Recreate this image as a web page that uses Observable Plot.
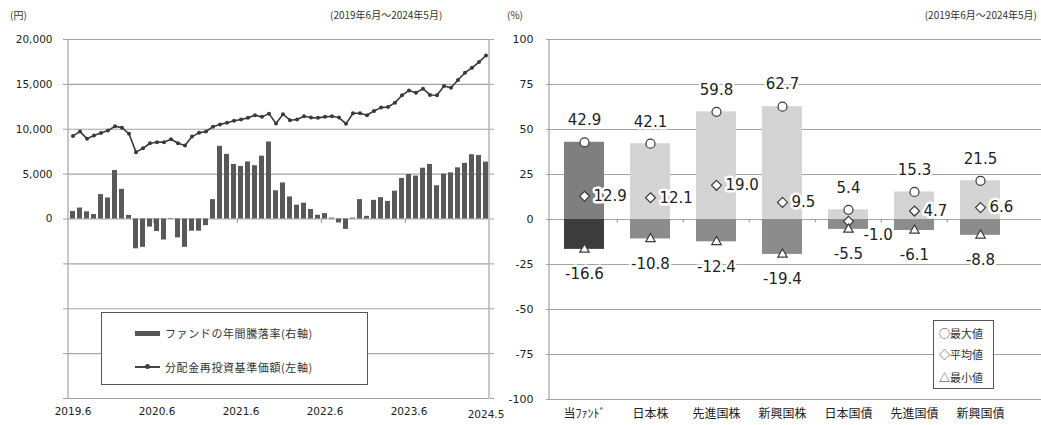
<!DOCTYPE html>
<html><head><meta charset="utf-8">
<script src="https://cdn.jsdelivr.net/npm/d3@7"></script>
<script src="https://cdn.jsdelivr.net/npm/@observablehq/plot@0.6"></script>
<style>
body{margin:0;background:#fff;}
#wrap{position:relative;width:1041px;height:425px;overflow:hidden;background:#fff;font-family:"Noto Sans CJK JP","Noto Sans",sans-serif;color:#222;}
#left{position:absolute;left:0;top:0;}
#right{position:absolute;left:495px;top:0;}
.hdr{position:absolute;top:9px;font-size:10px;line-height:12px;white-space:nowrap;color:#333;}
.legend{position:absolute;background:#fff;border:1px solid #555;box-sizing:border-box;font-size:11px;color:#333;}
.item{position:absolute;white-space:nowrap;line-height:14px;}
</style></head>
<body>
<div id="wrap">
  <div id="left"></div>
  <div id="right"></div>
  <div class="hdr" style="left:10px;">(円)</div>
  <div class="hdr" style="left:330px;">(2019年6月～2024年5月)</div>
  <div class="hdr" style="left:507px;">(%)</div>
  <div class="hdr" style="right:4px;">(2019年6月～2024年5月)</div>
  <div class="legend" style="left:101px;top:312px;width:267px;height:73px;">
    <div style="position:absolute;left:33px;top:18px;width:25px;height:5px;background:#555;"></div>
    <div class="item" style="left:63px;top:13px;letter-spacing:0.6px;">ファンドの年間騰落率(右軸)</div>
    <div style="position:absolute;left:33px;top:53px;width:25px;height:1.5px;background:#444;"></div>
    <div style="position:absolute;left:43px;top:51px;width:5px;height:5px;border-radius:50%;background:#444;"></div>
    <div class="item" style="left:63px;top:47px;letter-spacing:0.6px;">分配金再投資基準価額(左軸)</div>
  </div>
  <div class="legend" style="left:933px;top:320px;width:61px;height:69px;">
    <div class="item" style="left:5px;top:5px;">○最大値</div>
    <div class="item" style="left:5px;top:26px;">◇平均値</div>
    <div class="item" style="left:5px;top:49px;">△最小値</div>
  </div>
</div>
<script>
// ---------- data: left chart ----------
const months = ["2019.6","2019.7","2019.8","2019.9","2019.10","2019.11","2019.12",
  "2020.1","2020.2","2020.3","2020.4","2020.5","2020.6","2020.7","2020.8","2020.9","2020.10","2020.11","2020.12",
  "2021.1","2021.2","2021.3","2021.4","2021.5","2021.6","2021.7","2021.8","2021.9","2021.10","2021.11","2021.12",
  "2022.1","2022.2","2022.3","2022.4","2022.5","2022.6","2022.7","2022.8","2022.9","2022.10","2022.11","2022.12",
  "2023.1","2023.2","2023.3","2023.4","2023.5","2023.6","2023.7","2023.8","2023.9","2023.10","2023.11","2023.12",
  "2024.1","2024.2","2024.3","2024.4","2024.5"];
// fund annual return (%), right axis
const fundReturn = [4.2,6.1,4.0,2.5,13.6,11.7,27.0,16.5,2.0,-16.6,-15.8,-4.5,-7.0,-11.7,-0.3,-10.5,-15.8,-6.8,-6.8,-3.7,
  10.8,40.5,36.0,30.4,29.3,31.8,29.7,35.0,42.9,15.7,20.1,12.3,7.7,8.8,5.3,2.1,3.0,0.5,-2.2,-5.8,
  0.5,10.8,1.5,10.4,11.9,9.8,15.5,22.6,24.8,23.9,28.3,30.4,18.5,25.0,25.7,28.5,31.0,35.8,35.4,31.7];
// NAV with dividends reinvested (yen), left axis
const navYen = [9260,9740,8950,9300,9580,9850,10330,10180,9500,7450,7880,8440,8550,8560,8880,8440,8180,9180,9600,9750,
  10290,10540,10720,10940,11090,11270,11560,11380,11740,10650,11670,11010,11090,11450,11300,11270,11380,11450,11300,10600,
  11780,11780,11560,12040,12410,12480,12960,13780,14330,14075,14520,13820,13780,14815,14630,15480,16300,16850,17480,18220];
const leftTickLabels = ["2019.6","2020.6","2021.6","2022.6","2023.6"];
const lastTickLabel = ["2024.5"];
const yearMarks = ["2020.6","2021.6","2022.6","2023.6"];
const yenGrid = [-20000,-15000,-10000,-5000,0,5000,10000,15000,20000];

// ---------- data: right chart ----------
const categories = ["当ﾌｧﾝﾄﾞ","日本株","先進国株","新興国株","日本国債","先進国債","新興国債"];
const maxVals = [42.9,42.1,59.8,62.7,5.4,15.3,21.5];
const avgVals = [12.9,12.1,19.0,9.5,-1.0,4.7,6.6];
const minVals = [-16.6,-10.8,-12.4,-19.4,-5.5,-6.1,-8.8];
const pctTicks = [100,75,50,25,0,-25,-50,-75,-100];

const numFont = "DejaVu Sans, sans-serif";
const jpFont = "'Noto Sans CJK JP', sans-serif";
const gridColor = "#a3a3a3";

// ---------- left chart ----------
const L = {w: 515, h: 425, ml: 68, mr: 26, mt: 39, mb: 27};
const leftRows = months.map((m, i) => ({month: m, ret: fundReturn[i], nav: navYen[i]}));
const leftSides = () => {
  const g = d3.create("svg:g").attr("stroke", gridColor).attr("stroke-width", 1.2);
  for (const x of [L.ml, L.w - L.mr]) g.append("line").attr("x1", x).attr("x2", x).attr("y1", L.mt).attr("y2", L.h - L.mb);
  return g.node();
};
const leftPlot = Plot.plot({
  width: L.w, height: L.h, marginLeft: L.ml, marginRight: L.mr, marginTop: L.mt, marginBottom: L.mb,
  style: {fontFamily: numFont, fontSize: "10.5px", color: "#222", background: "transparent"},
  x: {type: "band", domain: months, paddingInner: 0.35, paddingOuter: 0.175, axis: null},
  y: {domain: [-20000, 20000], axis: null},
  marks: [
    Plot.ruleY(yenGrid, {stroke: gridColor, strokeWidth: 1.2}),
    leftSides,
    Plot.ruleX(yearMarks, {x: d => d, y1: 0, y2: -500, dx: -3.5, stroke: gridColor, strokeWidth: 1.2}),
    Plot.barY(leftRows, {x: "month", y1: 0, y2: d => d.ret * 200, fill: "#595959"}),
    Plot.line(leftRows, {x: "month", y: "nav", stroke: "#3a3a3a", strokeWidth: 1.6}),
    Plot.dot(leftRows, {x: "month", y: "nav", r: 2, fill: "#3a3a3a"}),
    Plot.axisY(yenGrid, {anchor: "left", tickSize: 5, tickPadding: 11, stroke: gridColor,
      tickFormat: d => d >= 0 ? d3.format(",")(d) : "", label: null}),
    Plot.axisY(yenGrid, {anchor: "right", tickSize: 4, stroke: gridColor, tickFormat: () => "", label: null}),
    Plot.axisX(leftTickLabels, {anchor: "bottom", tickSize: 0, tickPadding: 9, label: null}),
    Plot.axisX(lastTickLabel, {anchor: "bottom", tickSize: 0, tickPadding: 12, label: null})
  ]
});
document.getElementById("left").append(leftPlot);

// ---------- right chart ----------
const R = {w: 546, h: 425, ml: 54, mr: 0, mt: 39, mb: 26};
const rightRows = categories.map((c, i) => ({cat: c, max: maxVals[i], avg: avgVals[i], min: minVals[i], fund: i === 0}));
const rightSide = () => {
  const g = d3.create("svg:g").attr("stroke", gridColor).attr("stroke-width", 1.2);
  g.append("line").attr("x1", R.ml).attr("x2", R.ml).attr("y1", R.mt).attr("y2", R.h - R.mb);
  return g.node();
};
const halo = {stroke: "white", strokeWidth: 5};
const rightPlot = Plot.plot({
  width: R.w, height: R.h, marginLeft: R.ml, marginRight: R.mr, marginTop: R.mt, marginBottom: R.mb,
  style: {fontFamily: numFont, fontSize: "11px", color: "#222", background: "transparent"},
  x: {type: "band", domain: categories, range: [R.ml, R.ml + 465.5], paddingInner: 0.4, paddingOuter: 0.2, axis: null},
  y: {domain: [-100, 100], axis: null},
  marks: [
    Plot.ruleY(pctTicks, {stroke: gridColor, strokeWidth: 1.2}),
    rightSide,
    Plot.ruleX(categories.slice(1), {x: d => d, y1: 0, y2: -2, dx: -33.25, stroke: gridColor, strokeWidth: 1.2}),
    Plot.barY(rightRows, {x: "cat", y1: 0, y2: "max", fill: d => d.fund ? "#7f7f7f" : "#d4d4d4"}),
    Plot.barY(rightRows, {x: "cat", y1: 0, y2: "min", fill: d => d.fund ? "#3c3c3c" : "#8c8c8c"}),
    Plot.dot(rightRows, {x: "cat", y: "max", symbol: "circle", r: 4.5, fill: "white", stroke: "#3a3a3a", strokeWidth: 1.2}),
    Plot.dot(rightRows, {x: "cat", y: "avg", symbol: "diamond2", r: 4.5, fill: "white", stroke: "#3a3a3a", strokeWidth: 1.2}),
    Plot.dot(rightRows, {x: "cat", y: "min", symbol: "triangle2", r: 4.5, fill: "white", stroke: "#3a3a3a", strokeWidth: 1.2}),
    Plot.text(rightRows, {x: "cat", y: "max", text: d => d.max.toFixed(1), dy: -22, fontSize: 15, fill: "#222", ...halo}),
    Plot.text(rightRows, {x: "cat", y: "min", text: d => d.min.toFixed(1), dy: 25, fontSize: 15, fill: "#222", ...halo}),
    Plot.text(rightRows.filter(d => d.avg >= 0), {x: "cat", y: "avg", text: d => d.avg.toFixed(1), dx: 9, textAnchor: "start", fontSize: 15, fill: "#222", ...halo}),
    Plot.text(rightRows.filter(d => d.avg < 0), {x: "cat", y: "avg", text: d => d.avg.toFixed(1), dx: 15, dy: 14, textAnchor: "start", fontSize: 15, fill: "#222", ...halo}),
    Plot.axisY(pctTicks, {anchor: "left", tickSize: 3, tickPadding: 13, stroke: gridColor, tickFormat: d => String(d), label: null}),
    Plot.axisX(categories, {anchor: "bottom", tickSize: 0, tickPadding: 10, fontSize: 12, fontFamily: jpFont, label: null})
  ]
});
document.getElementById("right").append(rightPlot);
</script>
</body></html>
